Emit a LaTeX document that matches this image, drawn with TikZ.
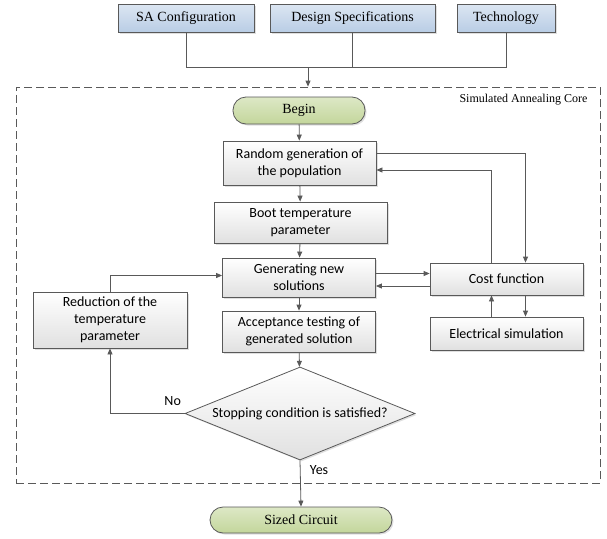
\documentclass[tikz,border=0pt]{standalone}
\usepackage{fontspec}
\setmainfont{Liberation Serif}
\newfontfamily\calibri{Carlito}
\usetikzlibrary{arrows.meta,shapes.geometric,shadows}

\definecolor{edge}{HTML}{595959}
\definecolor{bluetop}{HTML}{DCE6F2}
\definecolor{bluebot}{HTML}{B9CDE5}
\definecolor{greentop}{HTML}{DDE8C6}
\definecolor{greenbot}{HTML}{C3D69B}

\tikzset{
  base/.style={draw=edge, line width=0.8pt, inner sep=0pt, align=center,
    drop shadow={shadow xshift=1.5pt, shadow yshift=-1.5pt, opacity=0.25}},
  inbox/.style={base, top color=bluetop, bottom color=bluebot,
    font=\fontsize{14}{17}\selectfont, minimum height=28pt},
  proc/.style={base, top color=white, bottom color=black!12,
    font=\calibri\fontsize{14}{17}\selectfont},
  term/.style={base, top color=greentop, bottom color=greenbot, rounded corners=13pt,
    font=\fontsize{14}{17}\selectfont},
  test/.style={proc, shape=diamond, aspect=2.47},
  line/.style={draw=edge, line width=0.8pt},
  arrow/.style={line, -{Triangle[length=6pt,width=5pt]}}
}

\begin{document}
\begin{tikzpicture}[x=1pt, y=-1pt]
\useasboundingbox (0,0) rectangle (607,538);

\node[inbox, minimum width=136pt] (sa) at (186,18) {SA Configuration};
\node[inbox, minimum width=165pt] (design) at (352.5,18) {Design Specifications};
\node[inbox, minimum width=98pt] (tech) at (506,18) {Technology};

\node[draw=edge, line width=0.8pt, dash pattern=on 8pt off 4pt,
  minimum width=584pt, minimum height=396pt] (core) at (308,285) {};
\node[anchor=east, font=\fontsize{12}{14}\selectfont] (corename) at (591,100) {Simulated Annealing Core};

\coordinate (join) at (308,67);
\draw[line] (sa.south) |- (tech.south |- join) -- (tech.south);
\draw[line] (design.south) -- (design.south |- join);
\draw[arrow] (join) -- (core.north);

\node[term, minimum width=132pt, minimum height=27pt] (begin) at (299,110.5) {Begin};
\node[proc, minimum width=153pt, minimum height=44pt] (rand) at (299.5,163) {Random generation of\\the population};
\node[proc, minimum width=173pt, minimum height=41pt] (boot) at (300.5,222.5) {Boot temperature\\parameter};
\node[proc, minimum width=153pt, minimum height=39pt] (gen) at (299,277.5) {Generating new\\solutions};
\node[proc, minimum width=153pt, minimum height=41pt] (accept) at (299,331.5) {Acceptance testing of\\generated solution};
\node[test, minimum width=230pt, minimum height=93pt] (stop) at (300,413.5) {Stopping condition is satisfied?};
\node[proc, minimum width=153pt, minimum height=32pt] (cost) at (506.5,279) {Cost function};
\node[proc, minimum width=153pt, minimum height=33pt] (elec) at (506.5,333.5) {Electrical simulation};
\node[proc, minimum width=154pt, minimum height=56pt] (reduce) at (110,320) {Reduction of the\\temperature\\parameter};
\node[term, minimum width=182pt, minimum height=26pt] (sized) at (301,520) {Sized Circuit};

\draw[arrow] (begin) -- (rand);
\draw[arrow] (rand) -- (boot);
\draw[arrow] (boot) -- (gen);
\draw[arrow] (gen) -- (accept);
\draw[arrow] (accept) -- (stop);
\draw[arrow] (stop.south) -- (sized.north)
  node[pos=0.2, right=6pt, font=\calibri\fontsize{14}{17}\selectfont] (yes) {Yes};
\draw[arrow] (stop.west) -| (reduce.south)
  node[pos=0.08, above=4pt, font=\calibri\fontsize{14}{17}\selectfont] (no) {No};
\draw[arrow] (reduce.north) |- ([yshift=2pt]gen.west);

\coordinate (g1) at ([yshift=4pt]gen.east);
\coordinate (g2) at ([yshift=-8.5pt]gen.east);
\draw[arrow] (g1) -- (g1 -| cost.west);
\draw[arrow] (g2 -| cost.west) -- (g2);

\coordinate (r1) at ([yshift=10pt]rand.east);
\coordinate (r2) at ([yshift=-7pt]rand.east);
\coordinate (c1) at ([xshift=19pt]cost.north);
\coordinate (c2) at ([xshift=-15pt]cost.north);
\draw[arrow] (r1) -| (c1);
\draw[arrow] (c2) |- (r2);
\draw[arrow] (c2 |- elec.north) -- (c2 |- cost.south);
\draw[arrow] (c1 |- cost.south) -- (c1 |- elec.north);
\end{tikzpicture}
\end{document}
